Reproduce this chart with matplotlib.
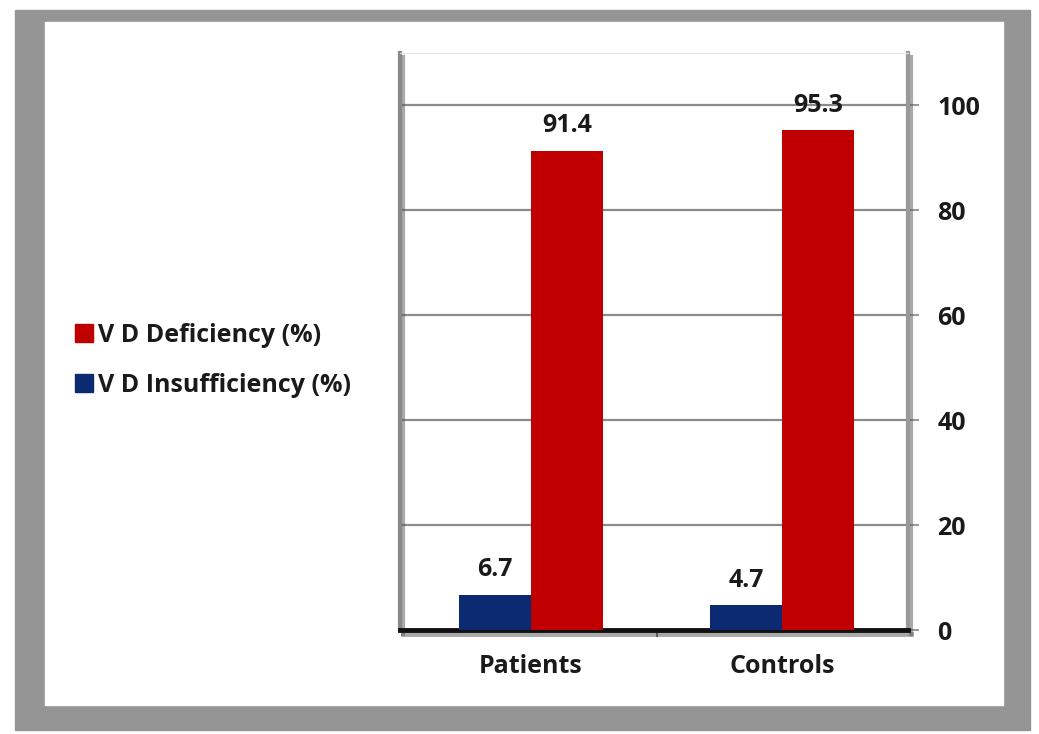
import numpy as np
import matplotlib
matplotlib.use("Agg")
import matplotlib.pyplot as plt
from matplotlib.patches import Rectangle, Patch
import matplotlib.patheffects as pe

# Data
groups = ["Patients", "Controls"]
insufficiency = [6.7, 4.7]
deficiency = [91.4, 95.3]
series_names = ["V D Deficiency (%)", "V D Insufficiency (%)"]
y_ticks = [0, 20, 40, 60, 80, 100]

RED = "#C00000"
NAVY = "#0B2A72"
FRAME = "#959595"
FS = 18

plt.rcParams["font.family"] = ["Open Sans", "DejaVu Sans"]
plt.rcParams["font.weight"] = "bold"

W, H = 1039, 734
fig = plt.figure(figsize=(W / 100, H / 100), dpi=100)

# gray picture frame round a white card
fig.patches.append(Rectangle((15 / W, 1 - 730 / H), (1030 - 15) / W, (730 - 10) / H,
                             transform=fig.transFigure, color=FRAME, zorder=-2))
fig.patches.append(Rectangle((45 / W, 1 - 705 / H), (1003 - 45) / W, (705 - 22) / H,
                             transform=fig.transFigure, color="white", zorder=-1))

ax = fig.add_axes([400 / W, 1 - 630 / H, 508 / W, 577 / H])
ax.set_zorder(2)
ax.set_facecolor("white")

x = np.arange(len(groups))
bw = 0.286
b_ins = ax.bar(x - bw / 2, insufficiency, bw, color=NAVY, zorder=3)
b_def = ax.bar(x + bw / 2, deficiency, bw, color=RED, zorder=3)

for bars, vals in ((b_ins, insufficiency), (b_def, deficiency)):
    for b, v in zip(bars, vals):
        ax.annotate(f"{v}", (b.get_x() + b.get_width() / 2, v),
                    xytext=(0, 9), textcoords="offset points",
                    ha="center", va="bottom", fontsize=FS, fontweight="bold",
                    color="#1a1a1a")

ax.set_xlim(-0.52, 1.5)
ax.set_ylim(0, 110)
ax.set_xticks(x)
ax.set_xticklabels(groups, fontsize=FS, fontweight="bold", color="#1a1a1a")
ax.set_xticks([0.5], minor=True)
ax.tick_params(axis="x", which="major", length=0, pad=17)
ax.tick_params(axis="x", which="minor", length=5, width=1.5, color="#666666")

ax.yaxis.tick_right()
ax.set_yticks(y_ticks)
ax.set_yticklabels([str(t) for t in y_ticks], fontsize=FS, fontweight="bold", color="#1a1a1a")
ax.tick_params(axis="y", length=8, width=1.5, color="#999999", pad=13)
ax.yaxis.grid(True, color="#8a8a8a", linewidth=1.6, zorder=1)
ax.set_axisbelow(True)

shadow = [pe.SimpleLineShadow(offset=(2, -3), shadow_color="#555555", alpha=0.5), pe.Normal()]
ax.spines["top"].set_color("#e4e4e4")
ax.spines["top"].set_linewidth(0.8)
ax.spines["left"].set_color("#888888")
ax.spines["left"].set_linewidth(3)
ax.spines["left"].set_path_effects(shadow)
ax.spines["right"].set_color("#999999")
ax.spines["right"].set_linewidth(3)
ax.spines["right"].set_path_effects(shadow)
ax.spines["bottom"].set_color("#111111")
ax.spines["bottom"].set_linewidth(3.5)
ax.spines["bottom"].set_path_effects(shadow)

handles = [Patch(color=RED), Patch(color=NAVY)]
leg = fig.legend(handles, series_names, loc="center left",
                 bbox_to_anchor=(75 / W, 1 - 360 / H), frameon=False,
                 handlelength=0.7, handleheight=0.7, handletextpad=0.2,
                 labelspacing=1.0, borderpad=0, borderaxespad=0,
                 prop={"size": FS, "weight": "bold"})
for t in leg.get_texts():
    t.set_color("#1a1a1a")

fig.savefig("out.png", dpi=100)
